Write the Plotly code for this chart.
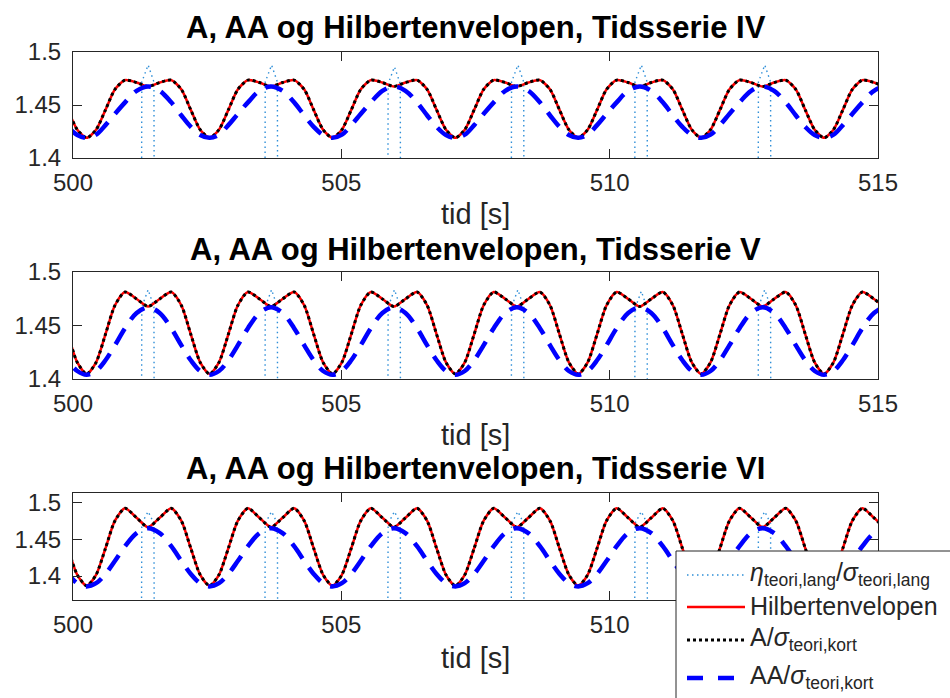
import plotly.graph_objects as go

# ---------------------------------------------------------------------------
# Data
# ---------------------------------------------------------------------------
# time of the dip (wave-group centre) of each cycle, seconds
t_center = [499.11, 501.40, 503.69, 505.98, 508.27, 510.56, 512.85, 515.14]
# sample offsets within one cycle, relative to the cycle centre, seconds
cycle_offsets = [-1.145, -0.97, -0.795, -0.62, -0.43, -0.215, 0.0,
                 0.215, 0.43, 0.62, 0.795, 0.97]

# A / sigma_teori,kort over one cycle (Hilbert envelope coincides with it)
A_IV = [1.4190, 1.4267, 1.4454, 1.4646, 1.4735, 1.4712, 1.4675,
        1.4712, 1.4735, 1.4646, 1.4454, 1.4267]
A_V = [1.4047, 1.4155, 1.4418, 1.4687, 1.4813, 1.4748, 1.4678,
       1.4748, 1.4813, 1.4687, 1.4418, 1.4155]
A_VI = [1.3869, 1.4017, 1.4377, 1.4747, 1.4919, 1.4790, 1.4662,
        1.4790, 1.4919, 1.4747, 1.4377, 1.4017]

# AA / sigma_teori,kort over one cycle
AA_IV = [1.4190, 1.4220, 1.4310, 1.4415, 1.4525, 1.4634, 1.4675,
         1.4634, 1.4525, 1.4401, 1.4294, 1.4217]
AA_V = [1.4040, 1.4075, 1.4175, 1.4314, 1.4475, 1.4617, 1.4670,
        1.4617, 1.4475, 1.4314, 1.4175, 1.4075]
AA_VI = [1.3860, 1.3904, 1.4029, 1.4204, 1.4405, 1.4583, 1.4650,
         1.4583, 1.4405, 1.4204, 1.4029, 1.3904]

# crests of eta_teori,lang / sigma_teori,lang that reach into the window
eta_t = [501.40, 503.70, 505.99, 508.29, 510.59, 512.89]
eta_IV = [1.4877, 1.4877, 1.4860, 1.4877, 1.4877, 1.4877]
eta_V = [1.4834, 1.4834, 1.4834, 1.4834, 1.4820, 1.4834]
eta_VI = [1.4875, 1.4875, 1.4875, 1.4875, 1.4875, 1.4875]
# each crest: steep flanks around the top (offsets in s, drop below crest)
crest_offsets = [-0.13, -0.118, 0.0, 0.108, 0.12]
crest_drop = [0.30, 0.016, 0.0, 0.016, 0.30]

x_ticks = [500, 505, 510, 515]
x_ticktext = ["500", "505", "510", "515"]
y_ticks = [1.4, 1.45, 1.5]
y_ticktext = ["1.4", "1.45", "1.5"]

panels = [
    ("A, AA og Hilbertenvelopen, Tidsserie IV", A_IV, AA_IV, eta_IV, [1.4, 1.5]),
    ("A, AA og Hilbertenvelopen, Tidsserie V", A_V, AA_V, eta_V, [1.4, 1.5]),
    ("A, AA og Hilbertenvelopen, Tidsserie VI", A_VI, AA_VI, eta_VI, [1.3676, 1.5126]),
]

# ---------------------------------------------------------------------------
# Layout geometry (pixels of a 950 x 698 page)
# ---------------------------------------------------------------------------
W, H = 950, 698


def fx(x):
    return x / W


def fy(y):
    return 1 - y / H


AX_L, AX_R = 73, 878
panel_px = [(52, 158), (272, 379), (493, 600)]
title_y = [27.5, 249.3, 468.8]
label_y = [214, 435, 658]

FONT = "Liberation Sans, Arial, Helvetica, sans-serif"
AXC = "#262626"

C_ETA = "#2f8fd8"
C_HIL = "#ff0000"
C_A = "#000000"
C_AA = "#0000ff"

fig = go.Figure()


def cycle_series(shape):
    xs, ys = [], []
    for c in t_center:
        for off, v in zip(cycle_offsets, shape):
            xs.append(c + off)
            ys.append(v)
    return xs, ys


def crest_series(peaks):
    xs, ys = [], []
    for c, p in zip(eta_t, peaks):
        for off, d in zip(crest_offsets, crest_drop):
            xs.append(c + off)
            ys.append(p - d)
        xs.append(None)
        ys.append(None)
    return xs, ys


annotations = []
for i, (title, A, AA, eta, yr) in enumerate(panels):
    n = "" if i == 0 else str(i + 1)
    xa, ya = "x" + n, "y" + n
    top, bot = panel_px[i]

    ex, ey = crest_series(eta)
    ax_, ay_ = cycle_series(A)
    bx_, by_ = cycle_series(AA)

    fig.add_trace(go.Scatter(x=ex, y=ey, mode="lines", xaxis=xa, yaxis=ya,
                             line=dict(color=C_ETA, width=1.4, dash="1.5px,3.5px"),
                             connectgaps=False, showlegend=False))
    fig.add_trace(go.Scatter(x=ax_, y=ay_, mode="lines", xaxis=xa, yaxis=ya,
                             line=dict(color=C_HIL, width=2.5, shape="spline", smoothing=0.7),
                             showlegend=False))
    fig.add_trace(go.Scatter(x=ax_, y=ay_, mode="lines", xaxis=xa, yaxis=ya,
                             line=dict(color=C_A, width=3, dash="3px,3px",
                                       shape="spline", smoothing=0.7),
                             showlegend=False))
    fig.add_trace(go.Scatter(x=bx_, y=by_, mode="lines", xaxis=xa, yaxis=ya,
                             line=dict(color=C_AA, width=4.5, dash="18px,11px",
                                       shape="spline", smoothing=1.0),
                             showlegend=False))

    # the last x label of the lowest panel sits under the legend box
    xt = list(x_ticktext)
    if i == 2:
        xt[-1] = ""

    common = dict(showline=True, linecolor=AXC, linewidth=1, mirror="allticks",
                  ticks="inside", ticklen=9, tickcolor=AXC, tickwidth=1,
                  showgrid=False, zeroline=False, automargin=False,
                  tickfont=dict(family=FONT, size=24, color=AXC))
    fig.layout["xaxis" + n] = dict(domain=[fx(AX_L), fx(AX_R)], anchor=ya,
                                   range=[500, 515], tickvals=x_ticks, ticktext=xt,
                                   ticklabelstandoff=3, **common)
    fig.layout["yaxis" + n] = dict(domain=[fy(bot), fy(top)], anchor=xa,
                                   range=yr, tickvals=y_ticks, ticktext=y_ticktext,
                                   ticklabelstandoff=6, **common)

    annotations.append(dict(text="<b>" + title + "</b>", xref="paper", yref="paper",
                            x=fx((AX_L + AX_R) / 2), y=fy(title_y[i]),
                            xanchor="center", yanchor="middle", showarrow=False,
                            font=dict(family=FONT, size=31, color="#000000")))
    annotations.append(dict(text="tid [s]", xref="paper", yref="paper",
                            x=fx((AX_L + AX_R) / 2), y=fy(label_y[i]),
                            xanchor="center", yanchor="middle", showarrow=False,
                            font=dict(family=FONT, size=29, color=AXC)))

# ---------------------------------------------------------------------------
# Legend box (drawn over the lowest panel, running off the page edge)
# ---------------------------------------------------------------------------
LG_L, LG_T = 676, 551
shapes = [
    dict(type="rect", xref="paper", yref="paper", layer="above",
         x0=fx(LG_L), x1=1.0, y0=0.0, y1=fy(LG_T),
         fillcolor="white", line=dict(width=0)),
    dict(type="line", xref="paper", yref="paper", layer="above",
         x0=fx(LG_L), x1=1.0, y0=fy(LG_T), y1=fy(LG_T), line=dict(color=AXC, width=1)),
    dict(type="line", xref="paper", yref="paper", layer="above",
         x0=fx(LG_L), x1=fx(LG_L), y0=0.0, y1=fy(LG_T), line=dict(color=AXC, width=1)),
]

leg_rows = [
    (575, dict(color=C_ETA, width=1.6, dash="1.5px,3.5px"),
     "<i>η</i><sub>teori,lang</sub>/<i>σ</i><sub>teori,lang</sub>"),
    (607, dict(color=C_HIL, width=2.5), "Hilbertenvelopen"),
    (640, dict(color=C_A, width=3, dash="3px,3px"), "A/<i>σ</i><sub>teori,kort</sub>"),
    (678, dict(color=C_AA, width=4.5, dash="16px,15px"), "AA/<i>σ</i><sub>teori,kort</sub>"),
]
for yrow, style, label in leg_rows:
    shapes.append(dict(type="line", xref="paper", yref="paper", layer="above",
                       x0=fx(687), x1=fx(745), y0=fy(yrow), y1=fy(yrow), line=style))
    annotations.append(dict(text=label, xref="paper", yref="paper",
                            x=fx(748), y=fy(yrow - 1), xanchor="left", yanchor="middle",
                            showarrow=False,
                            font=dict(family=FONT, size=25, color=AXC)))

fig.update_layout(width=W, height=H, autosize=False,
                  margin=dict(l=0, r=0, t=0, b=0, pad=0, autoexpand=False),
                  paper_bgcolor="white", plot_bgcolor="white",
                  showlegend=False, shapes=shapes, annotations=annotations)

fig.write_html("out.html", post_script="document.body.style.margin='0px';")
